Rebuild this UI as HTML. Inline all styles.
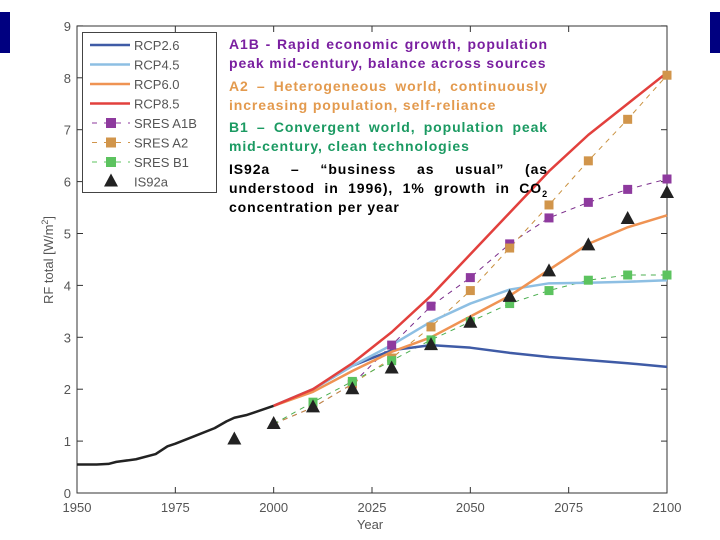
<!DOCTYPE html>
<html><head><meta charset="utf-8"><style>
body{margin:0;width:720px;height:540px;background:#fff;overflow:hidden;position:relative;font-family:"Liberation Sans",sans-serif}
.bar{position:absolute;background:#000080;width:10px;top:12px;height:41px}
#txt{position:absolute;left:229px;top:35px;width:319px;font-weight:bold;font-size:14px;line-height:19.3px;letter-spacing:0.9px}
#txt p{margin:0 0 3px 0}
#txt .j{text-align:justify;text-align-last:justify;white-space:nowrap}
#txt .l{text-align:left;white-space:nowrap}
</style></head><body>
<div class="bar" style="left:0"></div>
<div class="bar" style="left:710px"></div>
<svg id="ch" width="720" height="540" style="position:absolute;left:0;top:0"></svg>
<div id="txt">
<p style="color:#7a1fa0"><span class="j" style="display:block">A1B - Rapid economic growth, population</span><span class="l" style="display:block">peak mid-century, balance across sources</span></p>
<p style="color:#e39a4e"><span class="j" style="display:block">A2 – Heterogeneous world, continuously</span><span class="l" style="display:block">increasing population, self-reliance</span></p>
<p style="color:#1b9a62"><span class="j" style="display:block">B1 – Convergent world, population peak</span><span class="l" style="display:block">mid-century, clean technologies</span></p>
<p style="color:#000"><span class="j" style="display:block">IS92a – “business as usual” (as</span><span class="j" style="display:block">understood in 1996), 1% growth in CO<sub style="font-size:9px;line-height:0">2</sub></span><span class="l" style="display:block">concentration per year</span></p>
</div>
<script>
const histYears=[1950,1955,1958,1960,1965,1970,1973,1975,1980,1985,1988,1990,1993,1995,2000];
const histVals=[0.55,0.55,0.56,0.6,0.65,0.75,0.9,0.95,1.1,1.25,1.38,1.45,1.5,1.55,1.68];
const rcpYears=[2000,2010,2020,2030,2040,2050,2060,2070,2080,2090,2100];
const rcp85=[1.68,2.0,2.5,3.1,3.8,4.6,5.4,6.2,6.9,7.5,8.1];
const rcp60=[1.68,1.95,2.35,2.72,3.0,3.4,3.8,4.3,4.8,5.12,5.35];
const rcp45=[1.68,2.0,2.45,2.85,3.3,3.65,3.92,4.04,4.05,4.07,4.1];
const rcp26=[1.68,2.0,2.45,2.75,2.85,2.8,2.7,2.62,2.56,2.5,2.43];
const sresYears=[2000,2010,2020,2030,2040,2050,2060,2070,2080,2090,2100];
const a1b=[1.33,1.65,2.1,2.85,3.6,4.15,4.8,5.3,5.6,5.85,6.05];
const a2=[1.33,1.65,2.1,2.6,3.2,3.9,4.72,5.55,6.4,7.2,8.05];
const b1=[1.33,1.75,2.15,2.55,2.95,3.3,3.65,3.9,4.1,4.2,4.2];
const isYears=[1990,2000,2010,2020,2030,2040,2050,2060,2070,2080,2090,2100];
const is92a=[1.03,1.33,1.65,2.0,2.4,2.85,3.28,3.78,4.27,4.77,5.28,5.78];
const xTicks=[1950,1975,2000,2025,2050,2075,2100];
const yTicks=[0,1,2,3,4,5,6,7,8,9];
const X=v=>77+(v-1950)*590/150, Y=v=>493-v*51.9;
const s=document.getElementById('ch'),NS='http://www.w3.org/2000/svg';
function mk(t,a,p){const e=document.createElementNS(NS,t);for(const k in a)e.setAttribute(k,a[k]);(p||s).appendChild(e);return e;}
const fr=mk('rect',{x:77,y:26,width:590,height:467,fill:'none',stroke:'#333','stroke-width':1});


const axc='#555';
xTicks.forEach(t=>{
 mk('line',{x1:X(t),x2:X(t),y1:493,y2:487,stroke:'#333'});mk('line',{x1:X(t),x2:X(t),y1:26,y2:32,stroke:'#333'});
 const l=mk('text',{x:X(t),y:512,'text-anchor':'middle','font-size':13,fill:axc,'font-family':'Liberation Sans Narrow, Liberation Sans, sans-serif'});l.textContent=t;
 
 
});
yTicks.forEach(t=>{
 mk('line',{x1:77,x2:83,y1:Y(t),y2:Y(t),stroke:'#333'});mk('line',{x1:667,x2:661,y1:Y(t),y2:Y(t),stroke:'#333'});
 const l=mk('text',{x:71,y:Y(t)+5,'text-anchor':'end','font-size':13,fill:axc,'font-family':'Liberation Sans Narrow, Liberation Sans, sans-serif'});l.textContent=t;
 
 
});
const xt=mk('text',{x:370,y:529,'text-anchor':'middle','font-size':13,fill:axc});xt.textContent='Year';


const yt=mk('text',{x:0,y:0,transform:'translate(53,260) rotate(-90)','text-anchor':'middle','font-size':13,fill:axc});yt.innerHTML='RF total [W/m<tspan dy="-5" font-size="9">2</tspan><tspan dy="5">]</tspan>';


function line(xs,ys,c,w,dash,name){const p=mk('polyline',{points:xs.map((x,i)=>X(x)+','+Y(ys[i])).join(' '),fill:'none',stroke:c,'stroke-width':w,'stroke-linejoin':'round'});if(dash)p.setAttribute('stroke-dasharray',dash);}
function sq(xs,ys,c,name){xs.forEach((x,i)=>{if(i==0)return;const r=mk('rect',{x:X(x)-4.5,y:Y(ys[i])-4.5,width:9,height:9,fill:c});});}
line(sresYears,a1b,'#7b2d8b',1,'5,5','sres-a1b-line');
line(sresYears,a2,'#c9913f',1,'5,5','sres-a2-line');
line(sresYears,b1,'#4caf50',1,'5,5','sres-b1-line');
line(histYears,histVals,'#222',2.5,null,'historical-line');
line(rcpYears,rcp26,'#3f5ba6',2.5,null,'rcp26-line');
line(rcpYears,rcp45,'#8dbfe3',2.5,null,'rcp45-line');
line(rcpYears,rcp60,'#ef9353',2.5,null,'rcp60-line');
line(rcpYears,rcp85,'#e2403d',2.5,null,'rcp85-line');
sq(sresYears,a1b,'#8e3a9e','sres-a1b-marker');
sq(sresYears,a2,'#d1954b','sres-a2-marker');
sq(sresYears,b1,'#5cc35f','sres-b1-marker');
isYears.forEach((x,i)=>{const cx=X(x),cy=Y(is92a[i]);const t=mk('polygon',{points:`${cx},${cy-8} ${cx-7},${cy+5} ${cx+7},${cy+5}`,fill:'#222'});});
const lg=mk('g',{});
mk('rect',{x:82.5,y:32.5,width:134,height:160,fill:'#fff',stroke:'#444'},lg);
const ent=[['RCP2.6','#3f5ba6','l'],['RCP4.5','#8dbfe3','l'],['RCP6.0','#ef9353','l'],['RCP8.5','#e2403d','l'],['SRES A1B','#8e3a9e','s'],['SRES A2','#d1954b','s'],['SRES B1','#5cc35f','s'],['IS92a','#222','t']];
ent.forEach((e,i)=>{const y=45+i*19.5;
 if(e[2]=='l')mk('line',{x1:90,x2:130,y1:y,y2:y,stroke:e[1],'stroke-width':2.5},lg);
 else if(e[2]=='s'){mk('line',{x1:92,x2:130,y1:y,y2:y,stroke:e[1],'stroke-width':1,'stroke-dasharray':'5,7'},lg);mk('rect',{x:106,y:y-5,width:10,height:10,fill:e[1]},lg);}
 else mk('polygon',{points:`111,${y-8} 104,${y+5} 118,${y+5}`,fill:e[1]},lg);
 const t=mk('text',{x:134,y:y+5,'font-size':13,fill:'#555','font-family':'Liberation Sans Narrow, Liberation Sans, sans-serif'},lg);t.textContent=e[0];
 
 
});
</script>
</body></html>
